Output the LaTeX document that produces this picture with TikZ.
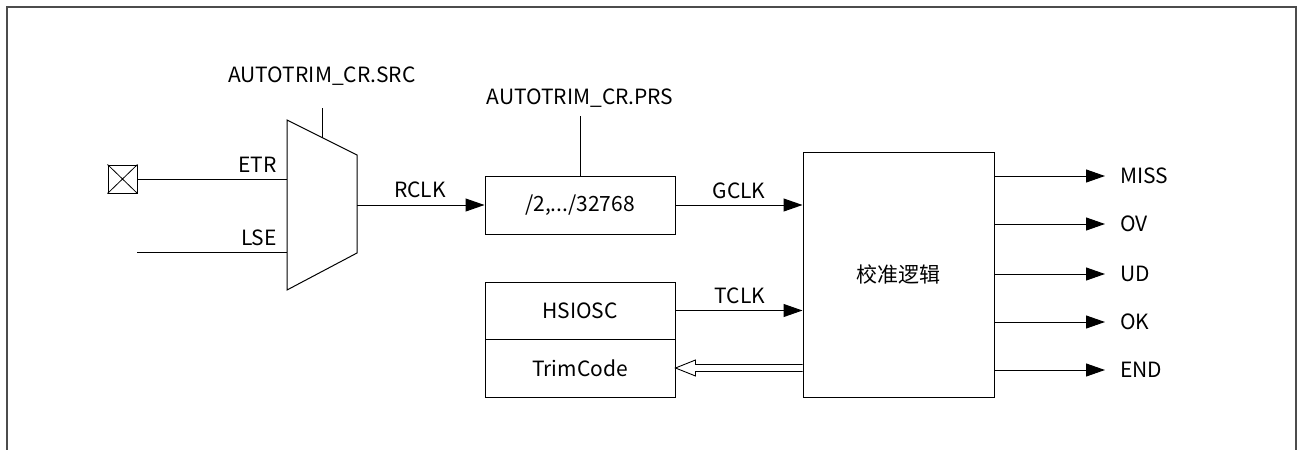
\documentclass[tikz,border=0pt]{standalone}
\usepackage{fontspec}
\setmainfont{Noto Sans CJK SC}
\usetikzlibrary{arrows.meta,calc}
\begin{document}
\begin{tikzpicture}[x=1pt,y=-1pt,
  every node/.style={font=\fontsize{21}{25}\selectfont, inner sep=0pt},
  blk/.style={draw, line width=1pt, minimum width=190pt, anchor=center},
  wire/.style={line width=1pt},
  arr/.style={line width=1pt, -{Triangle[length=19pt,width=13pt]}},
  lbl/.style={anchor=center}]
\useasboundingbox (0,0) rectangle (1302,450);
% frame
\draw[line width=1.2pt, black!70] (7,460) -- (7,7) -- (1296,7) -- (1296,460);

% mux
\coordinate (m1) at (287,120);
\coordinate (m2) at (357,155);
\coordinate (m3) at (357,253);
\coordinate (m4) at (287,290);
\draw[wire] (m1) -- (m2) -- (m3) -- (m4) -- cycle;
\coordinate (muxout) at (357,205);
\coordinate (etrin) at (287,179);
\coordinate (lsein) at (287,252);
\coordinate (srctop) at (322,108);
\coordinate (srcbot) at (322,137.5);
\draw[wire] (srctop) -- (srcbot);
\node[lbl] (srclbl) at (322,76) {AUTOTRIM\_CR.SRC};

% ETR pad
\node[draw, line width=1pt, minimum width=29pt, minimum height=28pt] (pad) at (122.5,179) {};
\draw[line width=0.8pt] (pad.north west) -- (pad.south east) (pad.south west) -- (pad.north east);
\draw[wire] (pad.east) -- (etrin);
\coordinate (lsestart) at (137,252);
\draw[wire] (lsestart) -- (lsein);
\node[lbl, anchor=east] (etrlbl) at (277,165) {ETR};
\node[lbl, anchor=east] (lselbl) at (277,238) {LSE};

% divider
\node[blk, minimum height=58pt] (div) at (580,205) {/2,.../32768};
\coordinate (prstop) at (580,116);
\draw[wire] (prstop) -- (div.north);
\node[lbl] (prslbl) at (580,98) {AUTOTRIM\_CR.PRS};

% HSIOSC / TrimCode
\node[blk, minimum height=57pt] (hsi) at (580,310.5) {HSIOSC};
\node[blk, minimum height=58pt] (trim) at (580,368) {TrimCode};

% main logic
\node[draw, line width=1pt, minimum width=191pt, minimum height=245pt] (main) at (898.5,274.5) {校准逻辑};

% connections
\draw[arr] (muxout) -- (div.west);
\node[lbl] (rclk) at (420,190) {RCLK};
\draw[arr] (div.east) -- (div.east -| main.west);
\node[lbl] (gclk) at (739,191) {GCLK};
\draw[arr] (hsi.east) -- (hsi.east -| main.west);
\node[lbl] (tclk) at (740,296) {TCLK};

% hollow double arrow
\coordinate (dtip) at (trim.east);
\draw[line width=0.9pt, fill=white]
  ($(dtip -| main.west)+(0,-3.5)$) -- ($(dtip)+(20,-3.5)$) -- ($(dtip)+(20,-8)$) -- (dtip)
  -- ($(dtip)+(20,8)$) -- ($(dtip)+(20,3.5)$) -- ($(dtip -| main.west)+(0,3.5)$);

% outputs
\foreach \y/\t/\n in {176/MISS/o1, 224/OV/o2, 274/UD/o3, 322/OK/o4, 370/END/o5}{
  \coordinate (\n s) at (994,\y);
  \coordinate (\n e) at (1105,\y);
  \draw[arr] (\n s) -- (\n e);
  \node[anchor=west] (\n) at (1120,\y) {\t};
}
\end{tikzpicture}
\end{document}
